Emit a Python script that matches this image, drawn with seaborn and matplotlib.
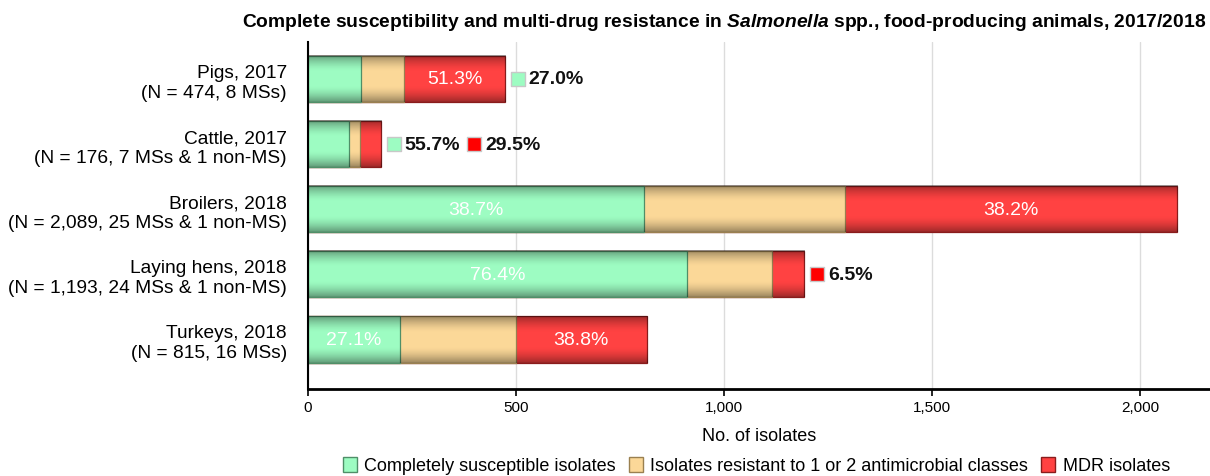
import numpy as np
import pandas as pd
import matplotlib
matplotlib.use("Agg")
import matplotlib.pyplot as plt
import matplotlib.transforms as mtransforms
from matplotlib.patches import Patch
import seaborn as sns

# data
categories = ["Pigs, 2017\n(N = 474, 8 MSs)",
              "Cattle, 2017\n(N = 176, 7 MSs & 1 non-MS)",
              "Broilers, 2018\n(N = 2,089, 25 MSs & 1 non-MS)",
              "Laying hens, 2018\n(N = 1,193, 24 MSs & 1 non-MS)",
              "Turkeys, 2018\n(N = 815, 16 MSs)"]
susceptible = [128, 98, 808, 911, 221]
resistant_1_2 = [103, 26, 483, 204, 278]
mdr = [243, 52, 798, 78, 316]
pct_susceptible = ["27.0%", "55.7%", "38.7%", "76.4%", "27.1%"]
pct_mdr = ["51.3%", "29.5%", "38.2%", "6.5%", "38.8%"]
# which labels sit inside the bar (True) or outside with a marker (False)
inside_susceptible = [False, False, True, True, True]
inside_mdr = [True, False, True, False, True]
series_names = ["Completely susceptible isolates",
                "Isolates resistant to 1 or 2 antimicrobial classes",
                "MDR isolates"]

df = pd.DataFrame({"cat": categories, "sus": susceptible,
                   "res": resistant_1_2, "mdr": mdr})
df["c1"] = df["sus"]
df["c2"] = df["sus"] + df["res"]
df["c3"] = df["c2"] + df["mdr"]

green, tan, red = "#9dfcc2", "#fbd898", "#ff4242"
green_e, tan_e, red_e = "#4f8f68", "#9a8050", "#8a1c1c"
BAR_H = 0.72

sns.set_theme(style="whitegrid")
plt.rcParams["font.family"] = ["Liberation Sans", "DejaVu Sans"]
plt.rcParams["mathtext.fontset"] = "custom"
plt.rcParams["mathtext.it"] = "Liberation Sans:italic:bold"
plt.rcParams["mathtext.rm"] = "Liberation Sans:bold"
for k in ["text.color", "axes.labelcolor", "xtick.color", "ytick.color"]:
    plt.rcParams[k] = "black"

fig = plt.figure(figsize=(12.1, 4.77), dpi=100)
ax = fig.add_axes([0.2545, 0.182, 0.7455, 0.728])

# stacked bars: draw cumulative totals, back to front
sns.barplot(data=df, x="c3", y="cat", color=red, orient="h", width=BAR_H,
            saturation=1, edgecolor=red_e, linewidth=0.9, ax=ax)
sns.barplot(data=df, x="c2", y="cat", color=tan, orient="h", width=BAR_H,
            saturation=1, edgecolor=tan_e, linewidth=0.9, ax=ax)
sns.barplot(data=df, x="c1", y="cat", color=green, orient="h", width=BAR_H,
            saturation=1, edgecolor=green_e, linewidth=0.9, ax=ax)

# soft cylinder-like shading over each full bar
prof = np.linspace(-1, 1, 80)
alpha = np.clip((np.abs(prof) - 0.3) / 0.7, 0, 1) ** 1.6 * 0.38
shade = np.zeros((80, 1, 4))
shade[:, 0, 3] = alpha
for i in range(len(categories)):
    ax.imshow(shade, extent=(0, df["c3"][i], i + BAR_H / 2, i - BAR_H / 2),
              aspect="auto", origin="upper", zorder=3, interpolation="bilinear")

ax.set_xlim(0, 2168)
ax.set_ylim(4.77, -0.57)
ax.set_xticks([0, 500, 1000, 1500, 2000])
ax.set_xticklabels(["0", "500", "1,000", "1,500", "2,000"], fontsize=11)
ax.tick_params(axis="x", bottom=True, length=5, width=1.2, color="black", pad=3)
ax.tick_params(axis="y", left=False, labelsize=13.8, pad=9)
for lab in ax.get_yticklabels():
    lab.set_horizontalalignment("right")
    lab.set_multialignment("right")
ax.set_ylabel("")
ax.set_xlabel("No. of isolates", fontsize=13, labelpad=9)
ax.grid(axis="x", color="#dcdcdc", linewidth=1)
ax.grid(axis="y", visible=False)
sns.despine(ax=ax, top=True, right=True)
ax.spines["left"].set_color("black")
ax.spines["left"].set_linewidth(1.5)
ax.spines["bottom"].set_color("black")
ax.spines["bottom"].set_linewidth(2)
ax.set_facecolor("white")

# percentage labels
def outside(ax, x, y, dx_pt, text, colour):
    tr = ax.transData + mtransforms.ScaledTranslation(dx_pt / 72, 0, fig.dpi_scale_trans)
    ax.scatter([x], [y], marker="s", s=88, color=colour, edgecolor="#c8c8c8",
               linewidth=1, transform=tr, zorder=5, clip_on=False)
    ax.annotate(text, (x, y), xytext=(dx_pt + 8, 0), textcoords="offset points",
                ha="left", va="center", fontsize=14, fontweight="bold", color="#111111")

for i in range(len(categories)):
    end = df["c3"][i]
    if inside_susceptible[i]:
        ax.text(df["c1"][i] / 2, i, pct_susceptible[i], ha="center", va="center",
                color="white", fontsize=14, zorder=6)
    else:
        outside(ax, end, i, 9, pct_susceptible[i], green)
    if inside_mdr[i]:
        ax.text((df["c2"][i] + end) / 2, i, pct_mdr[i], ha="center", va="center",
                color="white", fontsize=14, zorder=6)
    else:
        dx = 9 if inside_susceptible[i] else 67
        outside(ax, end, i, dx, pct_mdr[i], "#ff0000")

fig.text(0.997, 0.953,
         r"Complete susceptibility and multi-drug resistance in $\mathit{Salmonella}$ spp., food-producing animals, 2017/2018",
         ha="right", va="center", fontsize=13.9, fontweight="bold")

handles = [Patch(facecolor=green, edgecolor=green_e),
           Patch(facecolor=tan, edgecolor=tan_e),
           Patch(facecolor=red, edgecolor=red_e)]
fig.legend(handles, series_names, loc="center", bbox_to_anchor=(0.625, 0.022),
           ncol=3, frameon=False, fontsize=13, handlelength=0.8, handleheight=0.9,
           handletextpad=0.4, columnspacing=0.7)

fig.savefig("out.png", dpi=100)
